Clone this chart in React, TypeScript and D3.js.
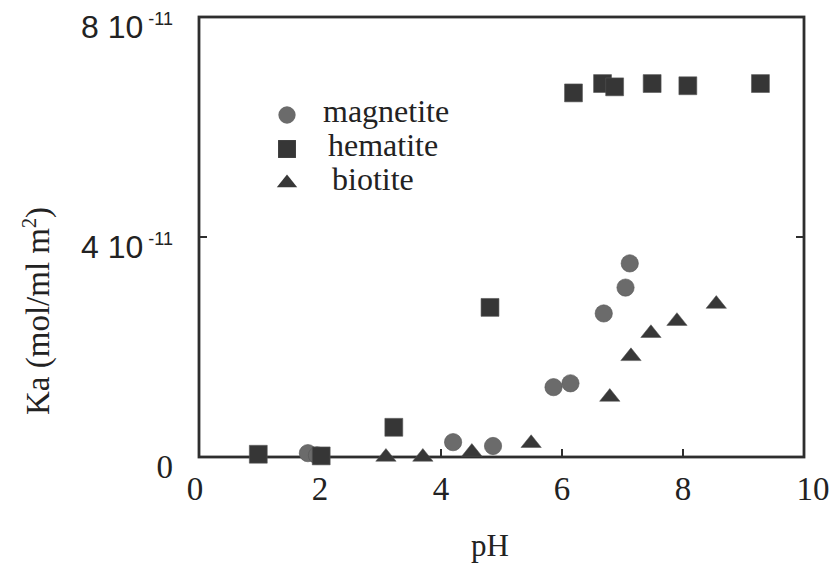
import * as d3 from "d3";
import { useEffect, useRef } from "react";

// data (Ka in mol/ml m^2)
const magnetitePH = [1.8, 1.95, 4.2, 4.86, 5.86, 6.14, 6.69, 7.05, 7.12];
const magnetiteKa = [0.07e-11, 0.03e-11, 0.27e-11, 0.2e-11, 1.27e-11, 1.34e-11, 2.61e-11, 3.08e-11, 3.52e-11];

const hematitePH = [0.98, 2.02, 3.22, 4.81, 6.19, 6.67, 6.87, 7.49, 8.08, 9.28];
const hematiteKa = [0.05e-11, 0.02e-11, 0.54e-11, 2.72e-11, 6.62e-11, 6.79e-11, 6.73e-11, 6.79e-11, 6.75e-11, 6.79e-11];

const biotitePH = [3.09, 3.7, 4.51, 5.49, 6.79, 7.14, 7.47, 7.9, 8.55];
const biotiteKa = [0, 0, 0.09e-11, 0.25e-11, 1.09e-11, 1.83e-11, 2.25e-11, 2.47e-11, 2.78e-11];

const xTicks = [0, 2, 4, 6, 8, 10];
const yTicks = [0, 4e-11, 8e-11];
const yTickMantissa = ["0", "4", "8"];

const legendNames = ["magnetite", "hematite", "biotite"];

const serif = "'Liberation Serif', 'Times New Roman', serif";
const sans = "'Liberation Sans', Arial, sans-serif";
const ink = "#2e2e2e";

function drawChart(svgEl: SVGSVGElement) {
    const svg = d3.select(svgEl);
    svg.selectAll("*").remove();

    const area = { left: 199, right: 804, top: 17, bottom: 457 };

    const scX = d3.scaleLinear().domain([0, 10]).range([area.left, area.right]);
    const scY = d3.scaleLinear().domain([0, 8e-11]).range([area.bottom, area.top]);

    // frame
    svg.append("rect")
        .attr("x", area.left)
        .attr("y", area.top)
        .attr("width", area.right - area.left)
        .attr("height", area.bottom - area.top)
        .style("fill", "none")
        .style("stroke", ink)
        .style("stroke-width", 2.8);

    // inner ticks
    const tickLen = 8;
    svg.append("g").selectAll("line")
        .data(xTicks.slice(1, -1))
        .enter()
        .append("line")
        .attr("x1", d => scX(d))
        .attr("x2", d => scX(d))
        .attr("y1", area.bottom)
        .attr("y2", area.bottom - tickLen)
        .style("stroke", ink)
        .style("stroke-width", 2);

    svg.append("g").selectAll("g")
        .data(yTicks.slice(1, -1))
        .enter()
        .append("g")
        .each(function(d) {
            const g = d3.select(this);
            g.append("line")
                .attr("x1", area.left).attr("x2", area.left + tickLen)
                .attr("y1", scY(d)).attr("y2", scY(d));
            g.append("line")
                .attr("x1", area.right).attr("x2", area.right - tickLen)
                .attr("y1", scY(d)).attr("y2", scY(d));
        })
        .style("stroke", ink)
        .style("stroke-width", 2);

    // x tick labels (the end labels sit a bit off their ticks in the original)
    svg.append("g").selectAll("text")
        .data(xTicks)
        .enter()
        .append("text")
        .attr("x", d => scX(d) + (d === 0 ? -4 : d === 10 ? 9 : 0))
        .attr("y", area.bottom + 43)
        .attr("text-anchor", "middle")
        .style("font-family", serif)
        .style("font-size", "33px")
        .style("fill", "#222")
        .text(d => d);

    // y tick labels
    yTicks.forEach((v, i) => {
        const t = svg.append("text")
            .attr("x", 173)
            .attr("y", scY(v) + 21)
            .attr("text-anchor", "end")
            .style("fill", "#222");
        if (v === 0) {
            t.style("font-family", serif).style("font-size", "33px").text("0");
        } else {
            t.style("font-family", sans).style("font-size", "32px");
            t.append("tspan").text(yTickMantissa[i] + " 10");
            t.append("tspan")
                .attr("dx", 5)
                .attr("dy", -13)
                .style("font-size", "18px")
                .text("-11");
        }
    });

    // axis titles
    svg.append("text")
        .attr("x", 490)
        .attr("y", 556)
        .attr("text-anchor", "middle")
        .style("font-family", serif)
        .style("font-size", "31px")
        .style("fill", "#222")
        .text("pH");

    const yTitle = svg.append("text")
        .attr("transform", "translate(49, 311) rotate(-90)")
        .attr("text-anchor", "middle")
        .style("font-family", serif)
        .style("font-size", "33px")
        .style("fill", "#222");
    yTitle.append("tspan").text("Ka (mol/ml m");
    yTitle.append("tspan").attr("dy", -13).style("font-size", "20px").text("2");
    yTitle.append("tspan").attr("dy", 13).text(")");

    // markers
    const circle = d3.symbol().type(d3.symbolCircle).size(235);
    const square = d3.symbol().type(d3.symbolSquare).size(320);
    const triangle = d3.symbol().type(d3.symbolTriangle).size(180);

    const series = [
        { xs: magnetitePH, ys: magnetiteKa, path: circle(), fill: "#6b6b6b", sy: 1 },
        { xs: hematitePH, ys: hematiteKa, path: square(), fill: "#363636", sy: 1 },
        { xs: biotitePH, ys: biotiteKa, path: triangle(), fill: "#383838", sy: 0.72 },
    ];

    series.forEach(s => {
        svg.append("g").selectAll("path")
            .data(s.xs.map((x, i) => [x, s.ys[i]]))
            .enter()
            .append("path")
            .attr("d", s.path)
            .attr("transform", d => `translate(${scX(d[0])}, ${scY(d[1])}) scale(1, ${s.sy})`)
            .style("fill", s.fill)
            .style("stroke", "#555")
            .style("stroke-width", 0.6);
    });

    // legend
    const legend = svg.append("g");
    const legendY = [122, 156, 190];
    const legendTextX = [323, 328, 332];
    series.forEach((s, i) => {
        legend.append("path")
            .attr("d", s.path)
            .attr("transform", `translate(287, ${legendY[i] - 7}) scale(1, ${s.sy})`)
            .style("fill", s.fill);
        legend.append("text")
            .attr("x", legendTextX[i])
            .attr("y", legendY[i])
            .style("font-family", serif)
            .style("font-size", "32px")
            .style("fill", "#222")
            .text(legendNames[i]);
    });
}

export default function App() {
    const svgRef = useRef<SVGSVGElement>(null);

    useEffect(() => {
        document.body.style.margin = "0";
        if (svgRef.current) drawChart(svgRef.current);
    }, []);

    return (
        <svg
            ref={svgRef}
            width={831}
            height={565}
            style={{ display: "block", background: "#fff" }}
        ></svg>
    );
}
